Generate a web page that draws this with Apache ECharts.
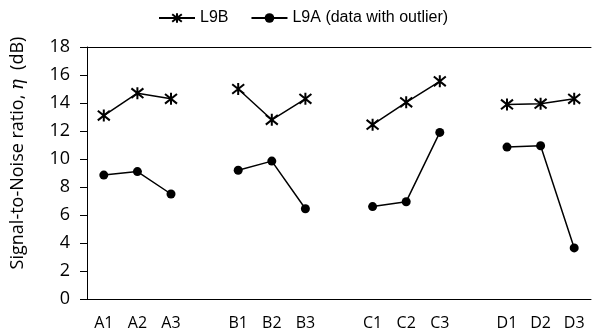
<!DOCTYPE html>
<html>
<head>
<meta charset="utf-8">
<script src="https://cdn.jsdelivr.net/npm/echarts@6/dist/echarts.min.js"></script>
<style>
  html, body { margin: 0; padding: 0; background: #fff; }
  #chart { width: 592px; height: 333px; }
</style>
</head>
<body>
<div id="chart"></div>
<script>
// categories, gaps between the factor groups are empty slots
var categories = ['A1', 'A2', 'A3', 'g1', 'B1', 'B2', 'B3', 'g2', 'C1', 'C2', 'C3', 'g3', 'D1', 'D2', 'D3']
var l9b = [13.1, 14.7, 14.3, null, 15.0, 12.8, 14.3, null, 12.45, 14.05, 15.55, null, 13.9, 13.95, 14.3]
var l9a = [8.85, 9.1, 7.5, null, 9.2, 9.85, 6.45, null, 6.6, 6.95, 11.9, null, 10.85, 10.95, 3.65]
var yTicks = { min: 0, max: 18, interval: 2 }

var starPath = 'path://M-1,-1L1,1M1,-1L-1,1M0,-1.25L0,1.25M-1,-1Z'

var chart = echarts.init(document.getElementById('chart'))
var option = {
  animation: false,
  textStyle: { fontFamily: 'Open Sans', color: '#000' },
  legend: {
    top: 5,
    left: 153,
    itemWidth: 36,
    itemHeight: 12,
    itemGap: 22,
    textStyle: { fontFamily: 'Liberation Sans', fontSize: 16, color: '#000' },
    data: ['L9B', 'L9A (data with outlier)']
  },
  grid: { left: 87, right: 1, top: 47, bottom: 34 },
  xAxis: [
    {
      type: 'category',
      data: categories,
      position: 'bottom',
      axisLine: { lineStyle: { color: '#000', width: 1 } },
      axisTick: { alignWithLabel: true, length: 6, lineStyle: { color: '#000' } },
      axisLabel: {
        color: '#000', fontSize: 16, margin: 16, fontFamily: 'Open Sans',
        formatter: function (v) { return v.charAt(0) === 'g' ? '' : v }
      },
      splitLine: { show: false }
    },
    {
      type: 'category',
      data: categories,
      position: 'bottom',
      axisLine: { show: false },
      axisTick: { inside: true, alignWithLabel: true, length: 4, lineStyle: { color: '#000' } },
      axisLabel: { show: false },
      splitLine: { show: false }
    },
    {
      type: 'category',
      data: categories,
      position: 'top',
      axisLine: { lineStyle: { color: '#000', width: 1 } },
      axisTick: { show: false },
      axisLabel: { show: false },
      splitLine: { show: false }
    }
  ],
  yAxis: {
    type: 'value',
    min: yTicks.min,
    max: yTicks.max,
    interval: yTicks.interval,
    name: '{n|Signal-to-Noise ratio, }{i|η}{n|  (dB)}',
    nameLocation: 'middle',
    nameGap: 60,
    nameTextStyle: {
      padding: [0, 0, 0, 40],
      rich: {
        n: { fontFamily: 'Open Sans', fontSize: 18, color: '#000' },
        i: { fontFamily: 'DejaVu Serif', fontStyle: 'italic', fontSize: 18, color: '#000' }
      }
    },
    axisLine: { show: true, lineStyle: { color: '#000', width: 1 } },
    axisTick: { show: true, length: 7, lineStyle: { color: '#000' } },
    axisLabel: { color: '#000', fontSize: 18, margin: 17, fontFamily: 'Open Sans' },
    splitLine: { show: false }
  },
  series: [
    {
      name: 'L9B',
      type: 'line',
      data: l9b,
      connectNulls: false,
      symbol: starPath,
      symbolSize: 12,
      showAllSymbol: true,
      lineStyle: { color: '#000', width: 1.5 },
      itemStyle: { color: 'rgba(0,0,0,0)', borderColor: '#000', borderWidth: 2 }
    },
    {
      name: 'L9A (data with outlier)',
      type: 'line',
      data: l9a,
      connectNulls: false,
      symbol: 'circle',
      symbolSize: 9,
      showAllSymbol: true,
      lineStyle: { color: '#000', width: 1.5 },
      itemStyle: { color: '#000', borderColor: '#000', borderWidth: 0 }
    }
  ]
}
chart.setOption(option)
</script>
</body>
</html>
